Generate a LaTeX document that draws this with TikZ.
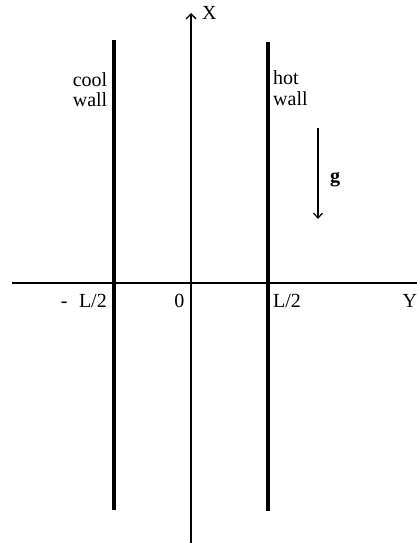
\documentclass[tikz,border=0pt]{standalone}
\usepackage{fontspec}
\setmainfont{Liberation Serif}
\usetikzlibrary{arrows.meta}
\begin{document}
\begin{tikzpicture}[x=1pt,y=-1pt,
  lbl/.style={inner sep=0pt,font=\fontsize{20}{22}\selectfont},
  wallline/.style={line width=4pt},
  axisline/.style={line width=1.4pt},
  tip/.style={-{Straight Barb[length=5pt,width=10pt,line width=1.3pt]}}]
\useasboundingbox (0,0) rectangle (417,543);
% coordinates
\coordinate (lwt) at (114,40);
\coordinate (lwb) at (114,510);
\coordinate (rwt) at (268,42);
\coordinate (rwb) at (268,511);
\coordinate (xb) at (191,543);
\coordinate (xt) at (191,13);
\coordinate (yl) at (12,283);
\coordinate (yr) at (417,283);
\coordinate (gt) at (318,128);
\coordinate (gb) at (318,219);
% walls
\draw[wallline] (lwt) -- (lwb);
\draw[wallline] (rwt) -- (rwb);
% axes
\draw[axisline] (yl) -- (yr);
\draw[axisline,tip] (xb) -- (xt);
% gravity
\draw[line width=1.2pt,-{Straight Barb[length=5pt,width=9pt,line width=1.2pt]}] (gt) -- (gb);
% labels
\node[lbl,anchor=base west] (xl) at (202,19.5) {X};
\node[lbl,anchor=base east] (cool) at (107.5,86.5) {cool};
\node[lbl,anchor=base east] (coolw) at (107.5,106) {wall};
\node[lbl,anchor=base west] (hot) at (273,84) {hot};
\node[lbl,anchor=base west] (hotw) at (273,105) {wall};
\node[lbl,anchor=base west,font=\fontsize{20}{22}\selectfont\bfseries] (gl) at (330,182) {g};
\node[lbl,anchor=base east] (ml) at (107,307.5) {-\hspace{11.5pt}L/2};
\node[lbl,anchor=base east] (zero) at (184.5,307.5) {0};
\node[lbl,anchor=base west] (pl) at (273,307.5) {L/2};
\node[lbl,anchor=base west] (yy) at (402.5,307.5) {Y};
\end{tikzpicture}
\end{document}
